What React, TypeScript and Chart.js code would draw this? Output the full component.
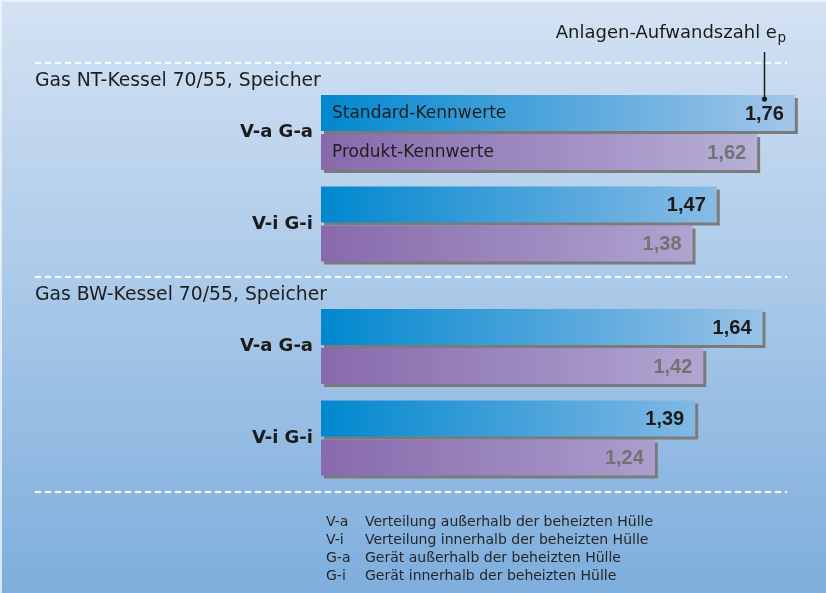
import React, { useEffect, useRef } from "react";
import { Chart, registerables } from "chart.js";

Chart.register(...registerables);

// ---- data ----
const categories = ["V-a G-a", "V-i G-i", "V-a G-a", "V-i G-i"];
const sectionOfCategory = [0, 0, 1, 1];
const sectionTitles = ["Gas NT-Kessel 70/55, Speicher", "Gas BW-Kessel 70/55, Speicher"];
const seriesLabels = ["Standard-Kennwerte", "Produkt-Kennwerte"];
const standardValues = [1.76, 1.47, 1.64, 1.39];
const produktValues = [1.62, 1.38, 1.42, 1.24];
const axisTitle = "Anlagen-Aufwandszahl e";
const axisTitleSub = "p";
const legendCodes = ["V-a", "V-i", "G-a", "G-i"];
const legendTexts = [
  "Verteilung außerhalb der beheizten Hülle",
  "Verteilung innerhalb der beheizten Hülle",
  "Gerät außerhalb der beheizten Hülle",
  "Gerät innerhalb der beheizten Hülle",
];

// ---- layout / style ----
const W = 826;
const H = 593;
const SECTION_GAP = 0.34;
const Y_MIN = -0.749;
const Y_MAX = 3.929;
const X_MAX = 1.82;
const FONT = '"DejaVu Sans", sans-serif';
const NUM_FONT = '"Liberation Sans", Arial, sans-serif';
const blueStops: [number, string][] = [
  [0, "#0088cf"],
  [0.35, "#3a9dd8"],
  [1, "#a3c6e9"],
];
const purpleStops: [number, string][] = [
  [0, "#886aac"],
  [0.5, "#a08ec3"],
  [1, "#bbb6da"],
];
const valueColors = ["#1b1b1b", "#737373"];

function makeGradient(c: any, stops: [number, string][]) {
  const chart = c.chart;
  if (!chart.chartArea) return stops[0][1];
  const xs = chart.scales.x;
  const maxVal = Math.max(...standardValues, ...produktValues);
  const x0 = xs.getPixelForValue(0);
  const x1 = xs.getPixelForValue(maxVal);
  const g = chart.ctx.createLinearGradient(x0, 0, x1, 0);
  stops.forEach(([o, col]) => g.addColorStop(o, col));
  return g;
}

const fmt = (v: number) => v.toFixed(2).replace(".", ",");

export default function App() {
  const ref = useRef<HTMLCanvasElement>(null);
  useEffect(() => {
    const canvas = ref.current!;
    const rowPos = categories.map((_, i) => i + sectionOfCategory[i] * SECTION_GAP);

    const bgPlugin = {
      id: "bg",
      beforeDraw(chart: any) {
        const ctx = chart.ctx;
        ctx.save();
        const g = ctx.createLinearGradient(0, 0, 0, H);
        g.addColorStop(0, "#d4e2f3");
        g.addColorStop(1, "#7eaedd");
        ctx.fillStyle = g;
        ctx.fillRect(0, 0, W, H);
        ctx.fillStyle = "rgba(240,245,251,0.8)";
        ctx.fillRect(0, 0, W, 2);
        ctx.fillRect(0, 0, 2, H);
        ctx.restore();
      },
    };

    const shadowPlugin = {
      id: "barShadow",
      beforeDatasetDraw(chart: any) {
        const ctx = chart.ctx;
        ctx.save();
        ctx.shadowColor = "#7b7b7b";
        ctx.shadowOffsetX = 3;
        ctx.shadowOffsetY = 3;
        ctx.shadowBlur = 0;
      },
      afterDatasetDraw(chart: any) {
        chart.ctx.restore();
      },
    };

    const decoPlugin = {
      id: "deco",
      afterDatasetsDraw(chart: any) {
        const ctx = chart.ctx;
        const area = chart.chartArea;
        const ys = chart.scales.y;
        ctx.save();

        // dashed separators + section titles
        const firstTop = ys.getPixelForValue(rowPos[0]);
        const headerOffset = firstTop - area.top;
        const lineYs: number[] = [];
        sectionTitles.forEach((title, s) => {
          const r = sectionOfCategory.indexOf(s);
          const ly = Math.round(ys.getPixelForValue(rowPos[r]) - headerOffset) - 1;
          lineYs.push(ly);
          ctx.font = `18.8px ${FONT}`;
          ctx.fillStyle = "#1e1e1e";
          ctx.textAlign = "left";
          ctx.textBaseline = "alphabetic";
          ctx.fillText(title, 35, ly + 23);
        });
        lineYs.push(Math.round(area.bottom));
        ctx.strokeStyle = "rgba(255,255,255,0.92)";
        ctx.lineWidth = 2;
        ctx.setLineDash([6, 4]);
        lineYs.forEach((ly) => {
          ctx.beginPath();
          ctx.moveTo(35, ly);
          ctx.lineTo(787, ly);
          ctx.stroke();
        });
        ctx.setLineDash([]);

        // values and series labels
        chart.data.datasets.forEach((ds: any, di: number) => {
          const meta = chart.getDatasetMeta(di);
          meta.data.forEach((el: any, i: number) => {
            const v = (ds.data[i] as any).x;
            ctx.font = `bold 20px ${NUM_FONT}`;
            ctx.fillStyle = valueColors[di];
            ctx.textAlign = "right";
            ctx.textBaseline = "middle";
            ctx.fillText(fmt(v), el.x - 11, el.y + 1);
            if (i === 0) {
              ctx.font = `17px ${FONT}`;
              ctx.fillStyle = "#1e1e1e";
              ctx.textAlign = "left";
              ctx.fillText(ds.label, area.left + 11, el.y + 1);
            }
          });
        });

        // axis title with pointer to first value
        const el0 = chart.getDatasetMeta(0).data[0];
        ctx.font = `bold 20px ${NUM_FONT}`;
        const vw = ctx.measureText(fmt(standardValues[0])).width;
        const px = Math.round(el0.x - 11 - vw / 2) + 0.5;
        const dotY = el0.y - el0.height / 2 + 4;
        ctx.strokeStyle = "#1b1b1b";
        ctx.lineWidth = 1.5;
        ctx.beginPath();
        ctx.moveTo(px, 52);
        ctx.lineTo(px, dotY);
        ctx.stroke();
        ctx.fillStyle = "#1b1b1b";
        ctx.beginPath();
        ctx.arc(px, dotY, 2.6, 0, Math.PI * 2);
        ctx.fill();

        ctx.font = `13.5px ${FONT}`;
        const subW = ctx.measureText(axisTitleSub).width;
        const right = 786;
        ctx.textAlign = "left";
        ctx.textBaseline = "alphabetic";
        ctx.fillText(axisTitleSub, right - subW, 42);
        ctx.font = `18px ${FONT}`;
        ctx.textAlign = "right";
        ctx.fillText(axisTitle, right - subW - 0.5, 38);

        // legend
        ctx.font = `14px ${FONT}`;
        ctx.fillStyle = "#262626";
        ctx.textAlign = "left";
        legendCodes.forEach((code, i) => {
          const by = 526 + i * 18;
          ctx.fillText(code, 326, by);
          ctx.fillText(legendTexts[i], 365, by);
        });
        ctx.restore();
      },
    };

    const chart = new Chart(canvas, {
      type: "bar",
      data: {
        datasets: [
          {
            label: seriesLabels[0],
            data: standardValues.map((v, i) => ({ x: v, y: rowPos[i] })),
            backgroundColor: (c: any) => makeGradient(c, blueStops),
          },
          {
            label: seriesLabels[1],
            data: produktValues.map((v, i) => ({ x: v, y: rowPos[i] })),
            backgroundColor: (c: any) => makeGradient(c, purpleStops),
          },
        ] as any,
      },
      options: {
        indexAxis: "y",
        responsive: false,
        animation: false,
        events: [],
        layout: { padding: { left: 0, right: 15, top: 64, bottom: 101 } },
        datasets: {
          bar: { barThickness: 39, maxBarThickness: 36, inflateAmount: 0, borderWidth: 0 } as any,
        },
        scales: {
          x: { type: "linear", display: false, min: 0, max: X_MAX },
          y: {
            type: "linear",
            reverse: true,
            min: Y_MIN,
            max: Y_MAX,
            bounds: "data",
            offset: false,
            grace: 0,
            grid: { display: false, drawTicks: false, offset: false },
            border: { display: false },
            afterDataLimits: (s: any) => {
              s.min = Y_MIN;
              s.max = Y_MAX;
            },
            afterBuildTicks: (s: any) => {
              s.ticks = rowPos.map((v) => ({ value: v }));
            },
            afterFit: (s: any) => {
              s.width = 321;
            },
            ticks: {
              autoSkip: false,
              padding: 8,
              color: "#1b1b1b",
              font: { family: FONT, size: 18, weight: "bold" },
              callback: (_v: any, i: number) => categories[i],
            },
          },
        },
        plugins: { legend: { display: false }, tooltip: { enabled: false } },
      } as any,
      plugins: [bgPlugin, shadowPlugin, decoPlugin],
    });
    return () => chart.destroy();
  }, []);

  return (
    <div style={{ position: "fixed", left: 0, top: 0, width: W, height: H }}>
      <canvas ref={ref} width={W} height={H} style={{ display: "block", width: W, height: H }} />
    </div>
  );
}
